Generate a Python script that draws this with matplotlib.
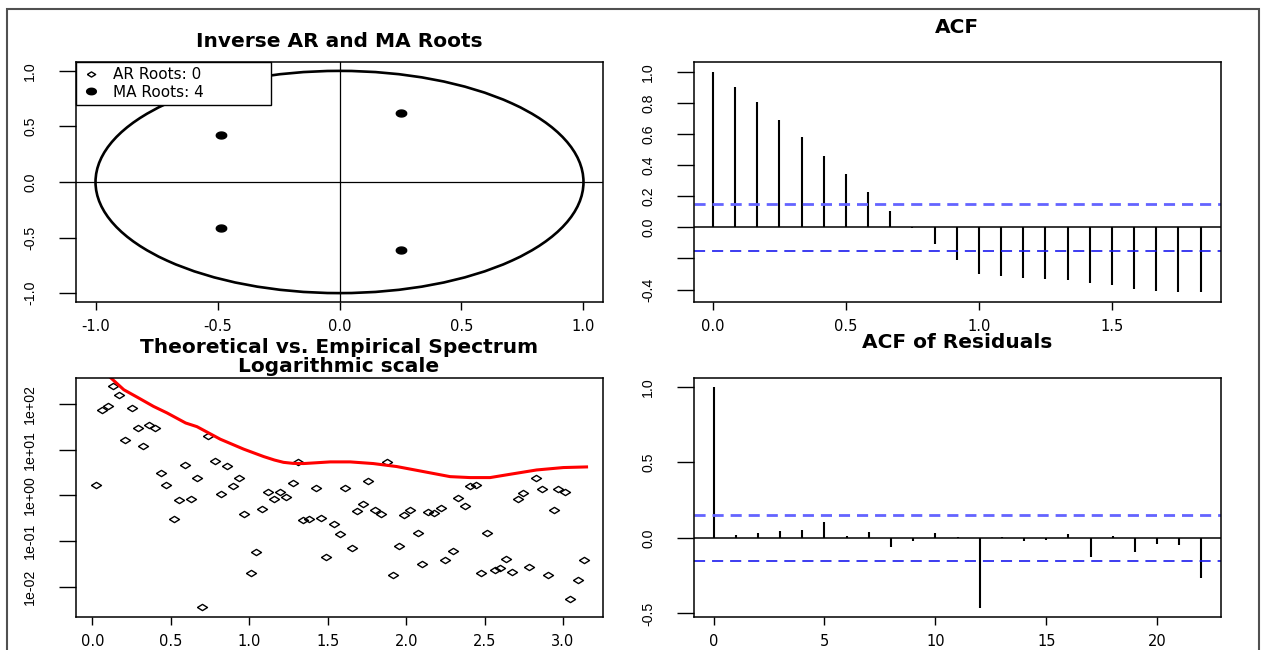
import matplotlib
matplotlib.use("Agg")
import matplotlib.pyplot as plt
from matplotlib.patches import Circle, Rectangle
from matplotlib.lines import Line2D
import numpy as np

# inverse MA roots (no AR roots)
ma_re = [0.252, 0.252, -0.485, -0.485]
ma_im = [0.620, -0.614, 0.425, -0.416]

# ACF of the series, lags in years
acf_lag = [0.000, 0.083, 0.167, 0.250, 0.333, 0.417, 0.500, 0.583, 0.667, 0.750, 0.833, 0.917,
           1.000, 1.083, 1.167, 1.250, 1.333, 1.417, 1.500, 1.583, 1.667, 1.750, 1.833]
acf_val = [1.000, 0.900, 0.809, 0.692, 0.582, 0.459, 0.342, 0.229, 0.108, -0.004, -0.108, -0.208,
           -0.299, -0.312, -0.325, -0.331, -0.338, -0.355, -0.372, -0.397, -0.410, -0.416, -0.416]
acf_ci = 0.152

# ACF of residuals
res_lag = [0, 1, 2, 3, 4, 5, 6, 7, 8, 9, 10, 11, 12, 13, 14, 15, 16, 17, 18, 19, 20, 21, 22]
res_val = [1.000, 0.022, 0.033, 0.046, 0.053, 0.104, 0.015, 0.040, -0.062, -0.018, 0.033, 0.007,
           -0.465, 0.003, -0.022, -0.011, 0.027, -0.126, 0.013, -0.093, -0.038, -0.049, -0.265]
res_ci = 0.151

# empirical periodogram
spec_freq = [0.023, 0.061, 0.097, 0.133, 0.169, 0.205, 0.251, 0.289, 0.322, 0.361, 0.397, 0.435,
             0.468, 0.517, 0.550, 0.591, 0.630, 0.665, 0.701, 0.735, 0.781, 0.819, 0.855, 0.893,
             0.932, 0.965, 1.008, 1.044, 1.083, 1.118, 1.160, 1.195, 1.231, 1.280, 1.313, 1.344,
             1.382, 1.423, 1.459, 1.492, 1.538, 1.579, 1.612, 1.653, 1.684, 1.723, 1.756, 1.804,
             1.838, 1.879, 1.917, 1.953, 1.986, 2.025, 2.073, 2.104, 2.140, 2.178, 2.219, 2.247,
             2.301, 2.332, 2.373, 2.408, 2.447, 2.480, 2.516, 2.565, 2.600, 2.639, 2.675, 2.713,
             2.746, 2.785, 2.828, 2.869, 2.902, 2.941, 2.966, 3.013, 3.046, 3.097, 3.133]
spec_emp = [1.71, 72.6, 90.4, 248, 157, 16.0, 79.1, 28.8, 12.0, 34.7, 28.8, 3.03,
            1.71, 0.308, 0.791, 4.54, 0.817, 2.40, 0.00371, 19.6, 5.74, 1.05, 4.32, 1.63,
            2.40, 0.397, 0.0203, 0.0565, 0.502, 1.20, 0.832, 1.16, 0.920, 1.86, 5.46, 0.284,
            0.298, 1.47, 0.324, 0.0439, 0.236, 0.142, 1.47, 0.0690, 0.454, 0.646, 2.06, 0.485,
            0.397, 5.28, 0.0183, 0.0764, 0.378, 0.478, 0.150, 0.0313, 0.432, 0.417, 0.519, 0.0384,
            0.0614, 0.859, 0.583, 1.63, 1.71, 0.0203, 0.150, 0.0236, 0.0256, 0.0397, 0.0213, 0.832,
            1.11, 0.0270, 2.40, 1.40, 0.0183, 0.478, 1.35, 1.16, 0.00546, 0.0145, 0.0384]

# theoretical spectrum
theo_freq = [0.115, 0.200, 0.287, 0.389, 0.475, 0.594, 0.666, 0.815, 0.964, 1.091, 1.160, 1.218,
             1.280, 1.346, 1.516, 1.643, 1.790, 1.940, 2.110, 2.280, 2.408, 2.535, 2.662, 2.832,
             3.002, 3.150]
theo_spec = [372, 202, 138, 87.5, 63.1, 38.0, 31.6, 16.8, 10.2, 7.03, 5.90, 5.25,
             4.98, 4.94, 5.37, 5.37, 4.94, 4.25, 3.30, 2.56, 2.44, 2.44, 2.88, 3.58,
             4.04, 4.17]

plt.rcParams['font.family'] = 'DejaVu Sans'
plt.rcParams['lines.scale_dashes'] = False
W, H = 1261, 650
fig = plt.figure(figsize=(W / 100, H / 100), dpi=100)

def px_axes(l, t, r, b):
    return fig.add_axes([l / W, 1 - b / H, (r - l) / W, (b - t) / H])

def r_style(ax):
    for s in ax.spines.values():
        s.set_linewidth(1.1)
    ax.tick_params(axis='x', length=5.5, width=1.0, pad=7, labelsize=10.5)
    ax.tick_params(axis='y', length=12, width=1.0, pad=16, labelsize=10.2, labelrotation=90)
    for lab in ax.get_yticklabels():
        lab.set_verticalalignment('center')
        lab.set_fontfamily('Liberation Sans')

def title(x, y, s):
    fig.text(x / W, 1 - y / H, s, ha='center', va='baseline', fontsize=14.5, fontweight='bold')

diamond = [(-1.6, 0), (0, 1), (1.6, 0), (0, -1), (-1.6, 0)]
t = np.linspace(0, 2 * np.pi, 40)
oval = list(zip(1.5 * np.cos(t), np.sin(t)))

# top left: inverse roots
ax1 = px_axes(76, 62, 603, 302)
ax1.set_xlim(-1.08, 1.08)
ax1.set_ylim(-1.08, 1.08)
ax1.add_patch(Circle((0, 0), 1, fill=False, lw=1.9, ec='black', transform=ax1.transData))
ax1.axhline(0, color='black', lw=0.9)
ax1.axvline(0, color='black', lw=0.9)
ax1.plot(ma_re, ma_im, ls='none', marker=oval, ms=7.5, color='black')
ax1.set_xticks([-1.0, -0.5, 0.0, 0.5, 1.0], ['-1.0', '-0.5', '0.0', '0.5', '1.0'])
ax1.set_yticks([-1.0, -0.5, 0.0, 0.5, 1.0], ['-1.0', '-0.5', '0.0', '0.5', '1.0'])
r_style(ax1)
handles = [Line2D([], [], ls='none', marker=diamond, ms=6, mfc='white', mec='black', mew=1.0),
           Line2D([], [], ls='none', marker=oval, ms=7, color='black')]
leg = ax1.legend(handles, ['AR Roots: 0', 'MA Roots: 4'], loc='upper left',
                 bbox_to_anchor=(0, 0, 195 / 527, 1), mode='expand', borderaxespad=0,
                 fancybox=False, edgecolor='black', framealpha=1, fontsize=11,
                 handlelength=1.2, handletextpad=0.9, borderpad=0.35, labelspacing=0.15)
leg.get_frame().set_linewidth(1.0)
title(339, 47, 'Inverse AR and MA Roots')

# top right: ACF
ax2 = px_axes(694, 62, 1221, 302)
ax2.set_xlim(-0.0714, 1.910)
ax2.set_ylim(-0.48, 1.064)
ax2.vlines(acf_lag, 0, acf_val, color='black', lw=1.5)
ax2.axhline(0, color='black', lw=1.1)
ax2.axhline(acf_ci, color='#6464ff', lw=2.0, dashes=(8, 5))
ax2.axhline(-acf_ci, color='#1a1aee', lw=1.2, dashes=(8, 5))
ax2.set_xticks([0.0, 0.5, 1.0, 1.5], ['0.0', '0.5', '1.0', '1.5'])
ax2.set_yticks([-0.4, -0.2, 0.0, 0.2, 0.4, 0.6, 0.8, 1.0],
               ['-0.4', '', '0.0', '0.2', '0.4', '0.6', '0.8', '1.0'])
r_style(ax2)
title(957, 33, 'ACF')

# bottom left: spectrum
ax3 = px_axes(76, 378, 603, 617)
ax3.set_yscale('log')
ax3.set_xlim(-0.105, 3.255)
ax3.set_ylim(10 ** -2.657, 10 ** 2.562)
ax3.plot(spec_freq, spec_emp, ls='none', marker=diamond, ms=7.2, mfc='none', mec='black', mew=1.0)
ax3.plot(theo_freq, theo_spec, color='#ff0000', lw=2.2)
ax3.minorticks_off()
ax3.set_xticks([0.0, 0.5, 1.0, 1.5, 2.0, 2.5, 3.0], ['0.0', '0.5', '1.0', '1.5', '2.0', '2.5', '3.0'])
ax3.set_yticks([0.01, 0.1, 1, 10, 100], ['1e-02', '1e-01', '1e+00', '1e+01', '1e+02'])
r_style(ax3)
title(339, 353, 'Theoretical vs. Empirical Spectrum')
title(339, 372, 'Logarithmic scale')

# bottom right: ACF of residuals
ax4 = px_axes(694, 378, 1221, 617)
ax4.set_xlim(-0.88, 22.88)
ax4.set_ylim(-0.524, 1.059)
ax4.vlines(res_lag, 0, res_val, color='black', lw=1.5)
ax4.axhline(0, color='black', lw=1.1)
ax4.axhline(res_ci, color='#6464ff', lw=2.0, dashes=(8, 5))
ax4.axhline(-res_ci, color='#1a1aee', lw=1.2, dashes=(8, 5))
ax4.set_xticks([0, 5, 10, 15, 20], ['0', '5', '10', '15', '20'])
ax4.set_yticks([-0.5, 0.0, 0.5, 1.0], ['-0.5', '0.0', '0.5', '1.0'])
r_style(ax4)
title(957, 348, 'ACF of Residuals')

# outer frame
fig.patches.append(Rectangle((7 / W, -0.05), (1259 - 7) / W, 1 - 9 / H + 0.05,
                             transform=fig.transFigure, fill=False, ec='#505050', lw=1.5))

fig.savefig('out.png', dpi=100)
